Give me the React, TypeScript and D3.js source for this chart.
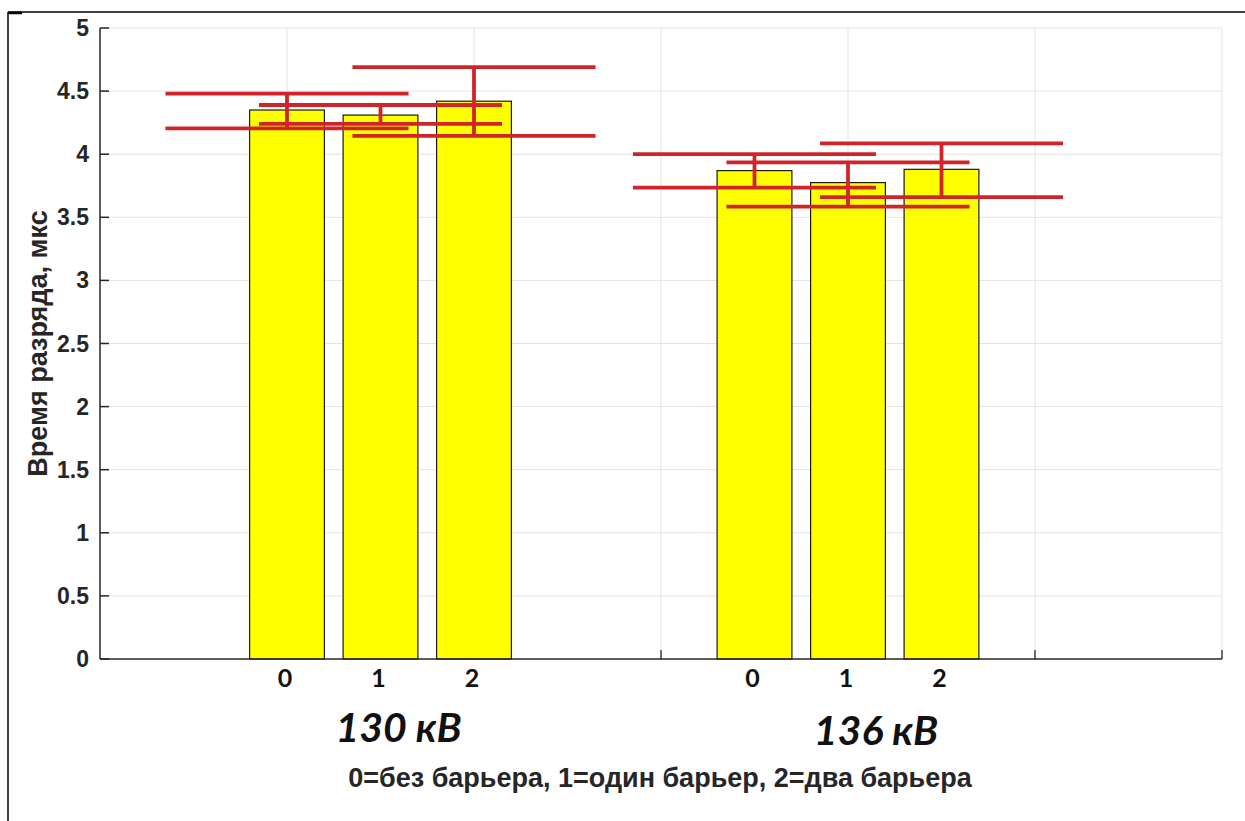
import * as d3 from "d3";

// barrier count under each bar
const barLabels = ["0", "1", "2"];
// voltage groups and their centre positions on the x axis
const groupNames = ["130 кВ", "136 кВ"];
const groupCenters = [1.5, 4];

// mean discharge time, µs
const means130 = [4.35, 4.31, 4.42];
const means136 = [3.87, 3.775, 3.88];
// error bar limits
const upper130 = [4.48, 4.39, 4.69];
const lower130 = [4.205, 4.24, 4.145];
const upper136 = [4.0, 3.935, 4.085];
const lower136 = [3.735, 3.585, 3.66];

const yTicks = [0, 0.5, 1, 1.5, 2, 2.5, 3, 3.5, 4, 4.5, 5];
const xGrid = [1, 2, 3, 4, 5, 6];

const W = 1245;
const H = 821;
const left = 100, right = 1222, top = 28, bottom = 659;
const barStep = 0.5;
const barWidth = 0.4;
const capHalf = 0.65;

const axisColor = "#262626";
const red = "#d0242b";

export default function App() {
  const x = d3.scaleLinear().domain([0, 6]).range([left, right]);
  const y = d3.scaleLinear().domain([0, 5]).range([bottom, top]);

  const bars = [
    { means: means130, upper: upper130, lower: lower130 },
    { means: means136, upper: upper136, lower: lower136 },
  ].flatMap((g, gi) =>
    g.means.map((m, i) => ({
      key: `${gi}-${i}`,
      cx: groupCenters[gi] + (i - 1) * barStep,
      mean: m,
      hi: g.upper[i],
      lo: g.lower[i],
      label: barLabels[i],
    }))
  );

  const bw = x(barWidth) - x(0);
  const cw = x(capHalf) - x(0);

  return (
    <svg width={W} height={H} style={{ position: "absolute", left: 0, top: 0, background: "#fff" }}>
      <rect x={0} y={0} width={W} height={H} fill="#fff" />
      {/* outer frame */}
      <line x1={8} y1={12} x2={W} y2={12} stroke="#000" strokeWidth={1.5} />
      <line x1={8} y1={12} x2={8} y2={H} stroke="#000" strokeWidth={1.5} />
      <line x1={8} y1={13} x2={22} y2={13} stroke="#000" strokeWidth={2.5} />

      {/* grid */}
      <g stroke="#e3e3e3" strokeWidth={1}>
        {yTicks.slice(1).map((t) => (
          <line key={`gy${t}`} x1={left} x2={right} y1={y(t)} y2={y(t)} />
        ))}
        {xGrid.map((t) => (
          <line key={`gx${t}`} x1={x(t)} x2={x(t)} y1={top} y2={bottom} />
        ))}
      </g>

      {/* axis ticks along bottom */}
      <g stroke={axisColor} strokeWidth={1.3}>
        {xGrid.map((t) => (
          <line key={`xt${t}`} x1={x(t)} x2={x(t)} y1={bottom} y2={bottom - 9} />
        ))}
      </g>

      {/* bars */}
      {bars.map((b) => (
        <rect
          key={`b${b.key}`}
          x={x(b.cx) - bw / 2}
          y={y(b.mean)}
          width={bw}
          height={y(0) - y(b.mean)}
          fill="#ffff00"
          stroke="#1a1a1a"
          strokeWidth={1.2}
        />
      ))}

      {/* error bars */}
      <g stroke={red} strokeWidth={3.8}>
        {bars.map((b) => (
          <g key={`e${b.key}`}>
            <line x1={x(b.cx)} x2={x(b.cx)} y1={y(b.hi)} y2={y(b.lo)} />
            <line x1={x(b.cx) - cw} x2={x(b.cx) + cw} y1={y(b.hi)} y2={y(b.hi)} />
            <line x1={x(b.cx) - cw} x2={x(b.cx) + cw} y1={y(b.lo)} y2={y(b.lo)} />
          </g>
        ))}
      </g>

      {/* axes */}
      <g stroke={axisColor} strokeWidth={1.5} fill="none">
        <line x1={left} x2={left} y1={top} y2={bottom} />
        <line x1={left} x2={right} y1={bottom} y2={bottom} />
        {yTicks.map((t) => (
          <line key={`yt${t}`} x1={left} x2={left + 9} y1={y(t)} y2={y(t)} />
        ))}
      </g>

      {/* y tick labels */}
      <g fontFamily="'Liberation Sans', Arial, sans-serif" fontWeight="bold" fontSize={23} fill={axisColor} textAnchor="end">
        {yTicks.map((t) => (
          <text key={`yl${t}`} x={left - 11} y={y(t)} dy="0.35em">
            {d3.format("")(t)}
          </text>
        ))}
      </g>

      {/* bar labels */}
      <g fontFamily="Lato, 'Open Sans', sans-serif" fontWeight="bold" fontSize={25} fill="#111" textAnchor="middle">
        {bars.map((b) => (
          <text key={`bl${b.key}`} x={x(b.cx) - 2} y={y(0) + 28}>
            {b.label}
          </text>
        ))}
      </g>

      {/* group labels */}
      <g fontFamily="Lato, 'Open Sans', sans-serif" fontWeight="bold" fontStyle="italic" fontSize={41} fill="#111" textAnchor="middle">
        {groupNames.map((g, i) => (
          <text key={g} x={x(groupCenters[i]) + 18 + i * 10} y={742 + i * 3}>
            {g}
          </text>
        ))}
      </g>

      {/* y axis title */}
      <text
        transform={`translate(47, ${(top + bottom) / 2}) rotate(-90)`}
        fontFamily="'Liberation Sans', Arial, sans-serif"
        fontWeight="bold"
        fontSize={27}
        fill={axisColor}
        textAnchor="middle"
      >
        Время разряда, мкс
      </text>

      {/* legend note */}
      <text
        x={660}
        y={787}
        fontFamily="'Liberation Sans', Arial, sans-serif"
        fontWeight="bold"
        fontSize={27}
        fill={axisColor}
        textAnchor="middle"
      >
        0=без барьера, 1=один барьер, 2=два барьера
      </text>
    </svg>
  );
}
